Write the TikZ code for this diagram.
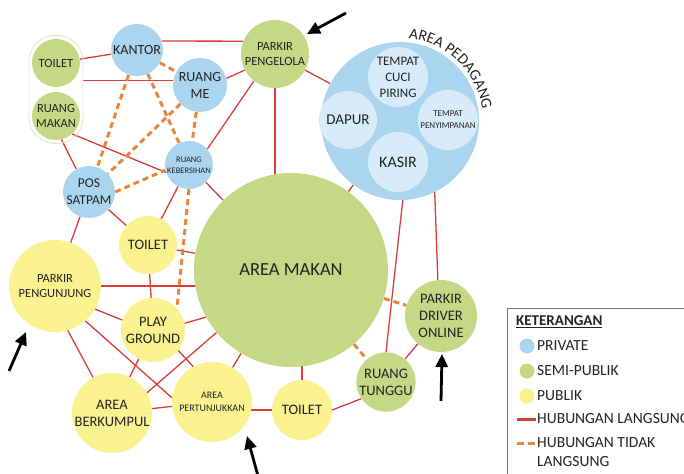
\documentclass[tikz,border=0pt]{standalone}
\usepackage{fontspec}
\setmainfont{Carlito}
\usetikzlibrary{backgrounds,decorations.text,arrows.meta}
\definecolor{cblue}{RGB}{171,213,238}
\definecolor{cblueL}{RGB}{215,235,248}
\definecolor{cgreen}{RGB}{197,216,134}
\definecolor{cyellow}{RGB}{249,242,142}
\definecolor{cred}{RGB}{214,62,58}
\definecolor{corange}{RGB}{233,134,60}
\definecolor{ctext}{RGB}{35,35,35}
\definecolor{cpill}{RGB}{226,231,196}
\tikzset{
  bub/.style={circle, inner sep=0pt, minimum size=#1, text=ctext, align=center,
    font=\fontsize{14.5}{17}\selectfont},
  pv/.style={bub=#1, fill=cblue},
  sp/.style={bub=#1, fill=cgreen},
  pb/.style={bub=#1, fill=cyellow},
  inr/.style={bub=#1, fill=cblueL},
  ln/.style={draw=cred, line width=1.3pt},
  dln/.style={draw=corange, line width=3pt, dash pattern=on 6pt off 4pt},
  pointer/.style={line width=2.8pt, -{Triangle[length=13pt,width=12pt]}},
  legtext/.style={anchor=west, text=ctext, font=\fontsize{15.5}{17}\selectfont, inner sep=0pt},
}
\begin{document}
\begin{tikzpicture}[x=1pt,y=-1pt]
\useasboundingbox (0,0) rectangle (684,473);

% group outline
\node[draw=cpill, line width=0.9pt, rounded corners=26pt, minimum width=54, minimum height=108, inner sep=0pt] (grp) at (56,89.5) {};

% private / semi / public nodes
\node[pv=52, font=\fontsize{14}{16}\selectfont] (kantor) at (137,50) {KANTOR};
\node[pv=54, font=\fontsize{14}{17}\selectfont] (me) at (200,85) {RUANG\\ME};
\node[sp=48, font=\fontsize{12.5}{15}\selectfont] (tg) at (56,63) {TOILET};
\node[sp=48, font=\fontsize{12.5}{15}\selectfont] (rm) at (56,116) {RUANG\\MAKAN};
\node[pv=48, font=\fontsize{8.5}{11}\selectfont] (keb) at (189,165) {RUANG\\KEBERSIHAN};
\node[pv=52, font=\fontsize{13.5}{17}\selectfont] (pos) at (89,192) {POS\\SATPAM};
\node[sp=68, font=\fontsize{12.5}{15}\selectfont] (pp) at (275,54) {PARKIR\\PENGELOLA};

\node[pv=158] (ap) at (400,121) {};
\node[inr=60, font=\fontsize{13}{16}\selectfont] (cuci) at (398,77) {TEMPAT\\CUCI\\PIRING};
\node[inr=58, font=\fontsize{15}{17}\selectfont] (dapur) at (348,120) {DAPUR};
\node[inr=60, font=\fontsize{9}{12}\selectfont] (simpan) at (448,120) {TEMPAT\\PENYIMPANAN};
\node[inr=60, font=\fontsize{16}{17}\selectfont] (kasir) at (398,162) {KASIR};

\node[sp=194, font=\fontsize{18.5}{20}\selectfont] (am) at (291,270) {AREA MAKAN};
\node[pb=58] (ty) at (148,245) {TOILET};
\node[pb=92, font=\fontsize{12.5}{15.5}\selectfont] (pgj) at (55,286) {PARKIR\\PENGUNJUNG};
\node[pb=64] (pl) at (153,330) {PLAY\\GROUND};
\node[pb=80] (ab) at (112,413) {AREA\\BERKUMPUL};
\node[pb=80, font=\fontsize{10}{13}\selectfont] (apt) at (212,402) {AREA\\PERTUNJUKKAN};
\node[pb=60] (tb) at (302,410) {TOILET};
\node[sp=58] (rt) at (386,382) {RUANG\\TUNGGU};
\node[sp=72] (pdo) at (441,316) {PARKIR\\DRIVER\\ONLINE};

% curved title
\path[decorate, decoration={text along path, text align=center,
  text={|\fontsize{15.5}{15.5}\selectfont\color{ctext}|AREA PEDAGANG}}]
  (ap.center) ++(-84:83) arc[start angle=-84, end angle=-8, radius=83];

\begin{scope}[on background layer]
  % direct relations
  \draw[ln] (tg) -- (kantor);
  \draw[ln] (me.170) -- (me.170 -| grp.east);
  \draw[ln] (kantor.20) -- (pp.158);
  \draw[ln] (me.14) -- (pp.208);
  \draw[ln] (keb.41) -- (pp.232);
  \draw[ln] (pp) -- (pp |- am);
  \draw[ln] (pp) -- (ap);
  \draw[ln] (am) -- (ap);
  \draw[ln] (ap.272) -- (rt.north);
  \draw[ln] (ap.296) -- (pdo.95);
  \draw[ln] (rm.312) -- (keb.198);
  \draw[ln] (rm.283) -- (pos.119);
  \draw[ln] (pos) -- (ty);
  \draw[ln] (pos) -- (pgj);
  \draw[ln] (keb) -- (ty);
  \draw[ln] (keb) -- (am);
  \draw[ln] (ty) -- (am);
  \draw[ln] (ty) -- (pl);
  \draw[ln] (pgj) -- (pgj -| am);
  \draw[ln] (pgj.330) -- (pl.162);
  \draw[ln] (pl.12) -- (am.209);
  \draw[ln] (pgj.286) -- (ab.118);
  \draw[ln] (pgj.311) -- (apt.174);
  \draw[ln] (pl) -- (ab);
  \draw[ln] (pl.321) -- (apt.118);
  \draw[ln] (ab.30) -- (am.220);
  \draw[ln] (ab) -- (apt);
  \draw[ln] (apt) -- (am);
  \draw[ln] (tb) -- (tb -| apt);
  \draw[ln] (tb) -- (tb |- am);
  \draw[ln] (tb.0) -- (rt.214);
  \draw[ln] (rt) -- (pdo);
  % indirect relations
  \draw[dln] (kantor) -- (me);
  \draw[dln] (me) -- (keb);
  \draw[dln] (kantor) -- (pos);
  \draw[dln] (kantor) -- (keb);
  \draw[dln] (me) -- (pos);
  \draw[dln] (pos.0) -- (keb.192);
  \draw[dln] (keb.south) -- (pl.42);
  \draw[dln] (am) -- (rt);
  \draw[dln] (am) -- (pdo);
\end{scope}

% access arrows
\coordinate (a1s) at (346,13); \coordinate (a1e) at (307,34);
\coordinate (a2s) at (9,371);  \coordinate (a2e) at (26,332);
\coordinate (a3s) at (258,476); \coordinate (a3e) at (247,436);
\coordinate (a4s) at (441,401); \coordinate (a4e) at (442,354);
\draw[pointer] (a1s) -- (a1e);
\draw[pointer] (a2s) -- (a2e);
\draw[pointer] (a3s) -- (a3e);
\draw[pointer] (a4s) -- (a4e);

% legend
\draw[draw=black!55, line width=0.8pt] (507,308) rectangle (700,490);
\node[legtext, font=\fontsize{15}{17}\selectfont\bfseries] (lk) at (516,322) {\underline{KETERANGAN}};
\fill[cblue] (527,346) circle (7.5);
\node[legtext] (l1) at (537,346) {PRIVATE};
\fill[cgreen] (527,371) circle (7.5);
\node[legtext] (l2) at (537,371) {SEMI-PUBLIK};
\fill[cyellow] (527,396) circle (7.5);
\node[legtext] (l3) at (537,396) {PUBLIK};
\draw[draw=cred, line width=3pt] (517,419) -- (536,419);
\node[legtext] (l4) at (537,419) {HUBUNGAN LANGSUNG};
\draw[draw=corange, line width=3pt, dash pattern=on 7pt off 4pt] (517,443) -- (536,443);
\node[legtext] (l5) at (537,443) {HUBUNGAN TIDAK};
\node[legtext] (l6) at (537,462) {LANGSUNG};
\end{tikzpicture}
\end{document}
